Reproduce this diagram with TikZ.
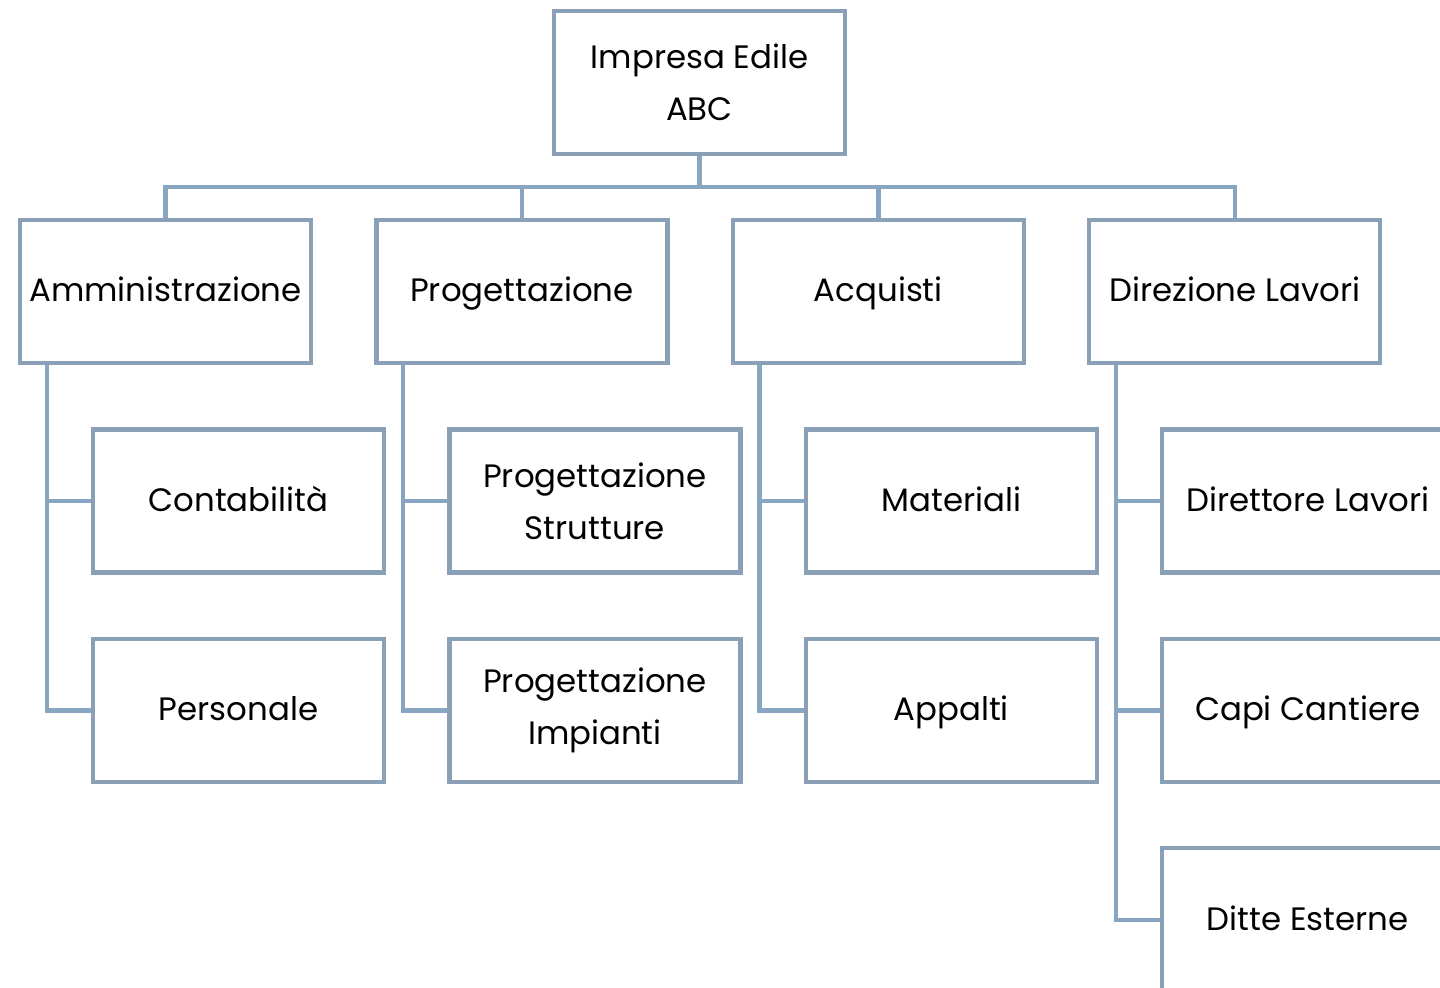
\documentclass[tikz,border=0pt]{standalone}
\usepackage{fontspec}
\setmainfont{Poppins}
\usetikzlibrary{positioning}
\definecolor{boxline}{RGB}{137,160,183}
\definecolor{connline}{RGB}{136,166,194}

\begin{document}
\begin{tikzpicture}[
  x=0.5pt,y=-0.5pt,
  font=\fontsize{16.2}{26}\selectfont,
  node distance=31pt and 30.5pt,
  box/.style={draw=boxline,line width=2.2pt,fill=white,minimum width=145.5pt,minimum height=71.5pt,align=center,inner sep=1pt},
  single/.style={box,execute at begin node=\strut},
  conn/.style={draw=connline,line width=2.2pt}
]
\useasboundingbox (0,0) rectangle (1440,988);
\clip (0,0) rectangle (1440,988);

\node[box] (top) at (699.5,82.5) {Impresa Edile\\ABC};

\node[single] (amm) at (165.5,291.5) {Amministrazione};
\node[single,right=of amm] (prog) {Progettazione};
\node[single,right=of prog] (acq) {Acquisti};
\node[single,right=of acq] (dir) {Direzione Lavori};

\node[single,below right=31pt and 36.5pt of amm.south west] (amm1) {Contabilità};
\node[single,below=of amm1] (amm2) {Personale};
\node[box,below right=31pt and 36.5pt of prog.south west] (prog1) {Progettazione\\Strutture};
\node[box,below=of prog1] (prog2) {Progettazione\\Impianti};
\node[single,below right=31pt and 36.5pt of acq.south west] (acq1) {Materiali};
\node[single,below=of acq1] (acq2) {Appalti};
\node[single,below right=31pt and 36.5pt of dir.south west] (dir1) {Direttore Lavori};
\node[single,below=of dir1] (dir2) {Capi Cantiere};
\node[single,below=of dir2] (dir3) {Ditte Esterne};

% top level to departments
\foreach \d in {amm,prog,acq,dir}
  \draw[conn] (top.south) -- ++(0,-15.5pt) -| (\d.north);

% departments to offices
\foreach \d/\n in {amm/2,prog/2,acq/2,dir/3}
  \foreach \i in {1,...,\n}
    \draw[conn] ([xshift=14.5pt]\d.south west) |- (\d\i.west);
\end{tikzpicture}
\end{document}
